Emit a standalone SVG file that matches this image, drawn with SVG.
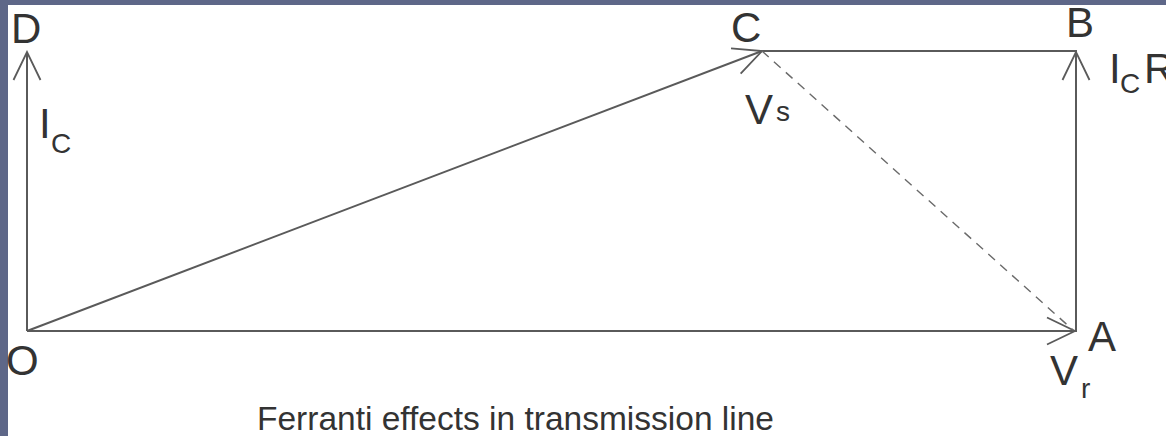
<svg xmlns="http://www.w3.org/2000/svg" width="1166" height="436" viewBox="0 0 1166 436">
<style>
.ln{stroke:#5a5a5a;stroke-width:2;fill:none}
.dash{stroke:#6a6a6a;stroke-width:1.4;fill:none;stroke-dasharray:9 7}
.t{font-family:"Liberation Sans",Arial,sans-serif;font-size:42px;fill:#333}
.s{font-family:"Liberation Sans",Arial,sans-serif;font-size:28px;fill:#333}
.cap{font-family:"Liberation Sans",Arial,sans-serif;font-size:33.5px;fill:#333}
</style>
<defs>
<marker id="arr" markerUnits="userSpaceOnUse" viewBox="-32 -16 34 32" markerWidth="34" markerHeight="32" refX="0" refY="0" orient="auto">
<path d="M-28,-13.5 L0,0 L-28,13.5" fill="none" stroke="#5a5a5a" stroke-width="1.8"/>
</marker>
</defs>
<rect x="0" y="0" width="1166" height="436" fill="#5e6788"/>
<rect x="8" y="5" width="1158" height="431" fill="#ffffff"/>
<g id="connectors">
<line id="OD" class="ln" x1="27" y1="331" x2="27" y2="52" marker-end="url(#arr)"/>
<line id="OA" class="ln" x1="27" y1="331" x2="1075" y2="331" marker-end="url(#arr)"/>
<line id="AB" class="ln" x1="1076" y1="332" x2="1076" y2="52" marker-end="url(#arr)"/>
<line id="CB" class="ln" x1="762" y1="51" x2="1077" y2="51"/>
<line id="OC" class="ln" x1="27" y1="331" x2="762" y2="51" marker-end="url(#arr)"/>
<line id="CA" class="dash" x1="762" y1="51" x2="1073" y2="330"/>
</g>
<g id="node-D"><text class="t" x="11" y="43">D</text></g>
<g id="node-C"><text class="t" x="731" y="42">C</text></g>
<g id="node-B"><text class="t" x="1066" y="37">B</text></g>
<g id="node-O"><text class="t" x="6" y="375">O</text></g>
<g id="node-A"><text class="t" x="1088" y="351">A</text></g>
<g id="label-Ic"><text class="t" x="39" y="138">I</text><text class="s" x="51" y="153">C</text></g>
<g id="label-IcR"><text class="t" x="1109" y="83">I</text><text class="s" x="1120" y="93">C</text><text class="t" x="1144" y="83">R</text></g>
<g id="label-Vs"><text class="t" x="745" y="124">V</text><text class="s" x="776" y="121">s</text></g>
<g id="label-Vr"><text class="t" x="1050" y="385">V</text><text class="s" x="1081" y="398">r</text></g>
<g id="caption"><text class="cap" x="257" y="430">Ferranti effects in transmission line</text></g>
</svg>
